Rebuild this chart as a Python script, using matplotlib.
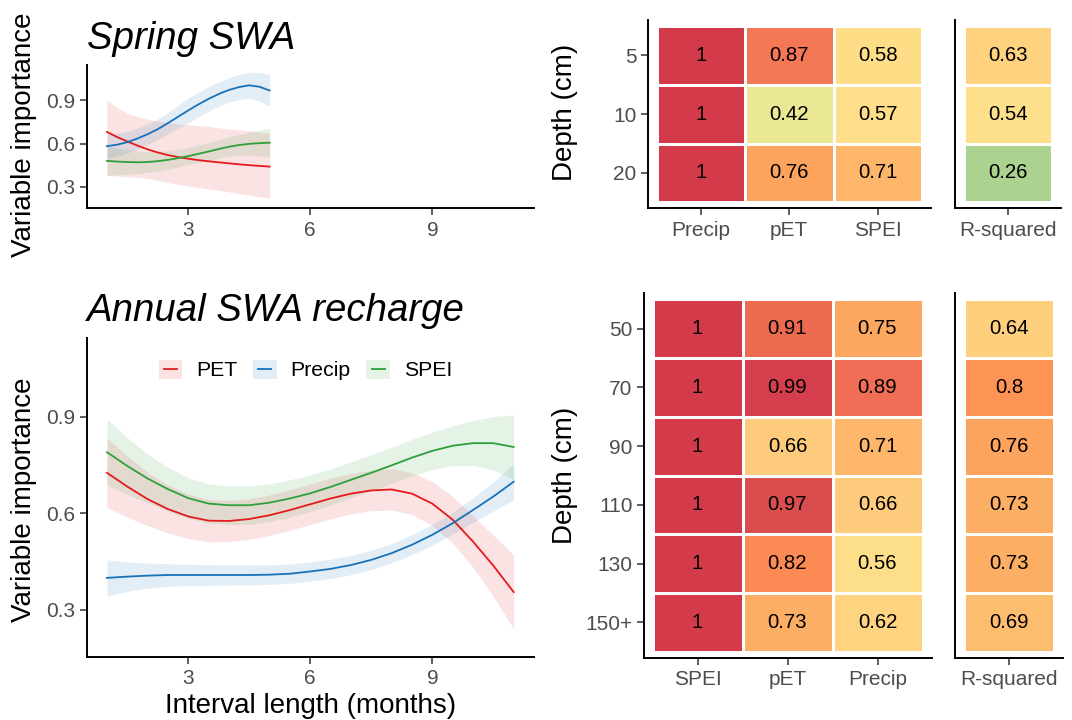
import numpy as np
import matplotlib
matplotlib.use('Agg')
import matplotlib.pyplot as plt
from matplotlib.colors import LinearSegmentedColormap, Normalize
from matplotlib.legend_handler import HandlerBase
from matplotlib.patches import Rectangle
from matplotlib.lines import Line2D

plt.rcParams['font.family'] = ['Liberation Sans', 'DejaVu Sans']

# ---------------- data ----------------
# Spring SWA smooths (interval length 1..5 months)
spring_x = [1, 1.25, 1.5, 1.75, 2, 2.25, 2.5, 2.75, 3, 3.25, 3.5, 3.75, 4, 4.25, 4.5, 4.75, 5]
spring_pet = [0.681, 0.645, 0.615, 0.586, 0.560, 0.538, 0.520, 0.506, 0.495, 0.485, 0.477,
              0.470, 0.463, 0.456, 0.450, 0.445, 0.440]
spring_pet_lo = [0.38, 0.375, 0.37, 0.364, 0.358, 0.345, 0.33, 0.317, 0.305, 0.295, 0.285,
                 0.275, 0.265, 0.252, 0.24, 0.23, 0.22]
spring_pet_hi = [0.90, 0.85, 0.81, 0.787, 0.77, 0.756, 0.745, 0.737, 0.73, 0.725, 0.72,
                 0.71, 0.70, 0.695, 0.69, 0.68, 0.67]
spring_precip = [0.582, 0.592, 0.610, 0.635, 0.665, 0.700, 0.742, 0.786, 0.830, 0.872, 0.910,
                 0.944, 0.972, 0.992, 1.004, 0.994, 0.968]
spring_precip_hw = [0.085, 0.08, 0.075, 0.072, 0.07, 0.072, 0.075, 0.08, 0.085, 0.085, 0.085,
                    0.085, 0.085, 0.087, 0.09, 0.10, 0.11]
spring_spei = [0.480, 0.475, 0.472, 0.470, 0.472, 0.478, 0.487, 0.499, 0.513, 0.529, 0.545,
               0.562, 0.578, 0.590, 0.598, 0.603, 0.606]
spring_spei_hw = [0.10, 0.092, 0.085, 0.078, 0.072, 0.068, 0.064, 0.062, 0.06, 0.06, 0.062,
                  0.065, 0.068, 0.073, 0.08, 0.09, 0.10]

# Annual SWA recharge smooths (interval length 1..11 months)
annual_x = [1, 1.5, 2, 2.5, 3, 3.5, 4, 4.5, 5, 5.5, 6, 6.5, 7, 7.5, 8, 8.5, 9, 9.5, 10, 10.5, 11]
annual_pet = [0.726, 0.683, 0.644, 0.613, 0.590, 0.577, 0.576, 0.582, 0.594, 0.610, 0.628,
              0.646, 0.661, 0.671, 0.674, 0.661, 0.630, 0.580, 0.512, 0.437, 0.355]
annual_pet_hw = [0.108, 0.095, 0.083, 0.075, 0.069, 0.066, 0.064, 0.063, 0.063, 0.063, 0.063,
                 0.063, 0.063, 0.063, 0.064, 0.065, 0.068, 0.073, 0.08, 0.095, 0.115]
annual_precip = [0.399, 0.403, 0.406, 0.408, 0.408, 0.408, 0.408, 0.408, 0.409, 0.412, 0.419,
                 0.427, 0.439, 0.455, 0.476, 0.502, 0.533, 0.569, 0.610, 0.652, 0.698]
annual_precip_hw = [0.056, 0.046, 0.039, 0.035, 0.033, 0.032, 0.031, 0.031, 0.030, 0.030, 0.030,
                    0.030, 0.030, 0.030, 0.030, 0.031, 0.032, 0.034, 0.038, 0.045, 0.056]
annual_spei = [0.790, 0.747, 0.708, 0.675, 0.647, 0.630, 0.625, 0.625, 0.633, 0.646, 0.662,
               0.682, 0.704, 0.726, 0.749, 0.773, 0.794, 0.810, 0.818, 0.818, 0.806]
annual_spei_hw = [0.103, 0.088, 0.076, 0.068, 0.063, 0.061, 0.060, 0.060, 0.059, 0.058, 0.057,
                  0.056, 0.056, 0.056, 0.056, 0.057, 0.058, 0.062, 0.070, 0.083, 0.100]

x_ticks = [3, 6, 9]
y_ticks = [0.3, 0.6, 0.9]
series_names = ['PET', 'Precip', 'SPEI']

# Heatmaps
spring_depths = ['5', '10', '20']
spring_vars = ['Precip', 'pET', 'SPEI']
spring_vals = [[1, 0.87, 0.58],
               [1, 0.42, 0.57],
               [1, 0.76, 0.71]]
spring_r2 = [0.63, 0.54, 0.26]

annual_depths = ['50', '70', '90', '110', '130', '150+']
annual_vars = ['SPEI', 'pET', 'Precip']
annual_vals = [[1, 0.91, 0.75],
               [1, 0.99, 0.89],
               [1, 0.66, 0.71],
               [1, 0.97, 0.66],
               [1, 0.82, 0.56],
               [1, 0.73, 0.62]]
annual_r2 = [0.64, 0.80, 0.76, 0.73, 0.73, 0.69]

# ---------------- style ----------------
C_PET, C_PRE, C_SPEI = '#E41A1C', '#1772B8', '#2E9F3A'
RIB_ALPHA = 0.12
LW = 1.3
TICK_COL = '#4D4D4D'

anchors = [(0.26, '#ABD28E'), (0.42, '#EBE895'), (0.54, '#FEE08B'), (0.58, '#FEDD87'),
           (0.64, '#FED07E'), (0.66, '#FECB7C'), (0.69, '#FDBD6F'), (0.73, '#FDAE65'),
           (0.76, '#FCA35E'), (0.80, '#FD9355'), (0.82, '#FC8A54'), (0.87, '#F47A55'),
           (0.89, '#F06D56'), (0.91, '#EC6A50'), (0.97, '#D94E4F'), (0.99, '#D53F4C'),
           (1.00, '#D43B4A')]
vmin, vmax = anchors[0][0], anchors[-1][0]
cmap = LinearSegmentedColormap.from_list(
    'imp', [((v - vmin) / (vmax - vmin), c) for v, c in anchors])
norm = Normalize(vmin, vmax)

W, H = 1072, 720
fig = plt.figure(figsize=(W / 100, H / 100), dpi=100)


def box(l, t, r, b):
    return [l / W, 1 - b / H, (r - l) / W, (b - t) / H]


def classic(ax):
    for s in ['top', 'right']:
        ax.spines[s].set_visible(False)
    for s in ['left', 'bottom']:
        ax.spines[s].set_linewidth(1.4)
        ax.spines[s].set_color('black')
    ax.tick_params(length=5, width=1.1, color='#333333', labelcolor=TICK_COL, labelsize=15)
    ax.tick_params(axis='x', pad=4)
    ax.tick_params(axis='y', pad=3)


def smooth_panel(ax, x, items):
    handles = []
    for y, lo, hi, c in items:
        ax.fill_between(x, lo, hi, color=c, alpha=RIB_ALPHA, linewidth=0)
        h, = ax.plot(x, y, color=c, lw=LW, solid_joinstyle='round')
        handles.append(h)
    ax.set_xlim(0.5, 11.5)
    ax.set_ylim(0.153, 1.145)
    ax.set_xticks(x_ticks)
    ax.set_xticklabels([str(t) for t in x_ticks])
    ax.set_yticks(y_ticks)
    ax.set_yticklabels([f'{t:.1f}' for t in y_ticks])
    classic(ax)
    return handles


def band(y, hw):
    y = np.asarray(y); hw = np.asarray(hw)
    return y, y - hw, y + hw


ax_top = fig.add_axes(box(86.6, 65, 534, 208))
sp_pre = band(spring_precip, spring_precip_hw)
sp_spei = band(spring_spei, spring_spei_hw)
smooth_panel(ax_top, spring_x, [
    (spring_pet, spring_pet_lo, spring_pet_hi, C_PET),
    (sp_pre[0], sp_pre[1], sp_pre[2], C_PRE),
    (sp_spei[0], sp_spei[1], sp_spei[2], C_SPEI)])

ax_bot = fig.add_axes(box(86.6, 338, 534, 657))
an_pet = band(annual_pet, annual_pet_hw)
an_pre = band(annual_precip, annual_precip_hw)
an_spei = band(annual_spei, annual_spei_hw)
hs = smooth_panel(ax_bot, annual_x, [
    (an_pet[0], an_pet[1], an_pet[2], C_PET),
    (an_pre[0], an_pre[1], an_pre[2], C_PRE),
    (an_spei[0], an_spei[1], an_spei[2], C_SPEI)])


class RibbonLineHandler(HandlerBase):
    def create_artists(self, legend, orig_handle, xdescent, ydescent, width, height,
                       fontsize, trans):
        c = orig_handle.get_color()
        r = Rectangle((-xdescent, -ydescent), width, height, facecolor=c, alpha=RIB_ALPHA,
                      edgecolor='none', transform=trans)
        ln = Line2D([-xdescent + 0.22 * width, -xdescent + 0.78 * width],
                    [-ydescent + height / 2] * 2, color=c, lw=LW, transform=trans)
        return [r, ln]


ax_bot.legend(hs, series_names, handler_map={Line2D: RibbonLineHandler()},
              loc='center', bbox_to_anchor=(0.489, 0.9), ncol=3, frameon=False,
              fontsize=15.3, handlelength=1.1, handleheight=1.0, handletextpad=0.65,
              columnspacing=0.75, borderpad=0)


def heat(ax, vals, xlabels, ylabels, show_y=True):
    vals = np.asarray(vals, dtype=float)
    nr, nc = vals.shape
    ax.pcolormesh(np.arange(nc + 1) - 0.5, np.arange(nr + 1) - 0.5, vals, cmap=cmap,
                  norm=norm, edgecolors='white', linewidth=2)
    for i in range(nr):
        for j in range(nc):
            ax.text(j, i, f'{vals[i, j]:g}', ha='center', va='center', fontsize=14.7,
                    color='black')
    ax.set_xlim(-0.6, nc - 1 + 0.6)
    ax.set_ylim(nr - 1 + 0.6, -0.6)
    ax.set_xticks(range(nc))
    ax.set_xticklabels(xlabels)
    classic(ax)
    if show_y:
        ax.set_yticks(range(nr))
        ax.set_yticklabels(ylabels)
    else:
        ax.set_yticks([])


ax_h1 = fig.add_axes(box(647.7, 20, 930.9, 208.3))
heat(ax_h1, spring_vals, spring_vars, spring_depths)
ax_r1 = fig.add_axes(box(955, 20, 1061.2, 208.3))
heat(ax_r1, [[v] for v in spring_r2], ['R-squared'], spring_depths, show_y=False)

ax_h2 = fig.add_axes(box(643.5, 293.3, 931.5, 657.7))
heat(ax_h2, annual_vals, annual_vars, annual_depths)
ax_r2 = fig.add_axes(box(955, 293.3, 1063, 657.7))
heat(ax_r2, [[v] for v in annual_r2], ['R-squared'], annual_depths, show_y=False)

# titles and axis titles
fig.text(87 / W, 1 - 49 / H, 'Spring SWA', fontsize=27.6, style='italic', ha='left',
         va='baseline')
fig.text(87 / W, 1 - 321 / H, 'Annual SWA recharge', fontsize=27.6, style='italic',
         ha='left', va='baseline')
fig.text(24 / W, 1 - 135 / H, 'Variable importance', rotation=90, fontsize=20,
         ha='center', va='center')
fig.text(24 / W, 1 - 499.5 / H, 'Variable importance', rotation=90, fontsize=20,
         ha='center', va='center')
fig.text(565 / W, 1 - 112.5 / H, 'Depth (cm)', rotation=90, fontsize=20,
         ha='center', va='center')
fig.text(565 / W, 1 - 475 / H, 'Depth (cm)', rotation=90, fontsize=20,
         ha='center', va='center')
fig.text(311 / W, 1 - 713 / H, 'Interval length (months)', fontsize=20,
         ha='center', va='baseline')

fig.savefig('out.png', dpi=100, facecolor='white')
